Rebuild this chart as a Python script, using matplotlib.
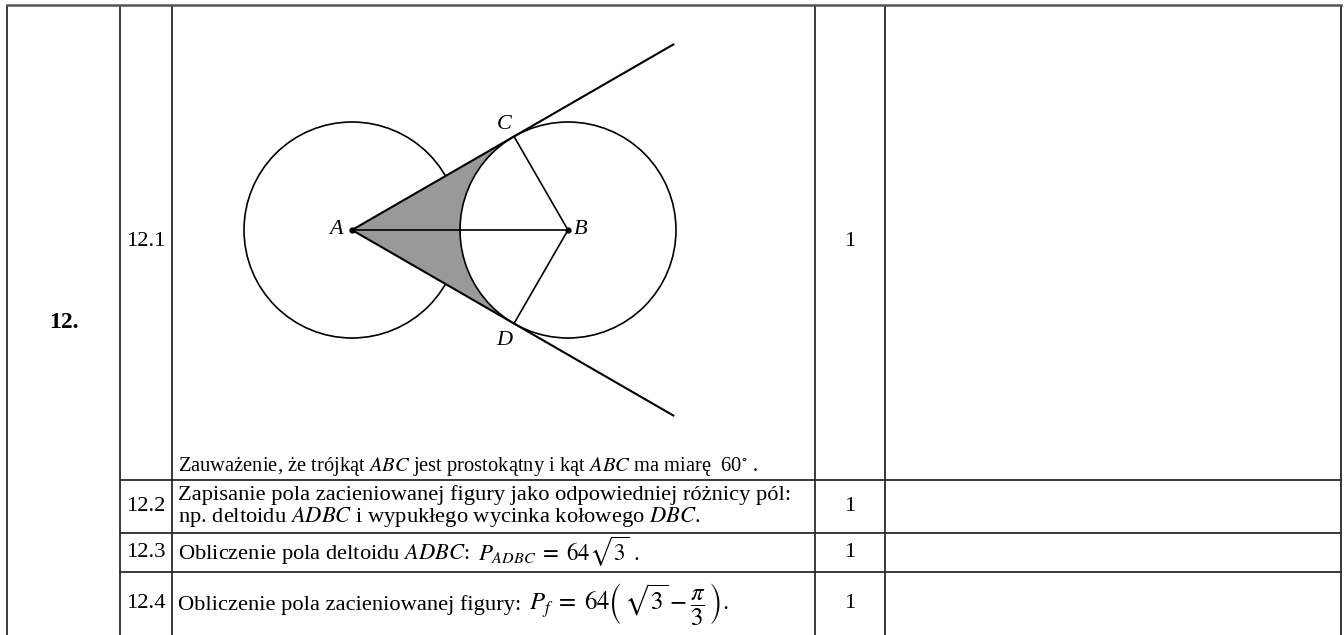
import numpy as np
import matplotlib
matplotlib.use("Agg")
import matplotlib.pyplot as plt
from matplotlib.patches import Circle, Polygon

plt.rcParams['font.family'] = ['Liberation Serif', 'DejaVu Serif']
plt.rcParams['mathtext.fontset'] = 'stix'

# ---- data ----
task_no = "12."
sub_ids = ["12.1", "12.2", "12.3", "12.4"]
points = [1, 1, 1, 1]
desc_text = [
    r"Zauważenie, że trójkąt $\mathit{ABC}$ jest prostokątny i kąt $\mathit{ABC}$ ma miarę  60$^{\circ}$ .",
    "Zapisanie pola zacieniowanej figury jako odpowiedniej różnicy pól:\n"
    r"np. deltoidu $\mathit{ADBC}$ i wypukłego wycinka kołowego $\mathit{DBC}$.",
    r"Obliczenie pola deltoidu $\mathit{ADBC}$:",
    r"Obliczenie pola zacieniowanej figury:",
]
desc_formula = [
    None,
    None,
    r"$P_{ADBC}\;=\;64\sqrt{3}\ .$",
    r"$P_f\;=\;64\left(\,\sqrt{3}-\dfrac{\pi}{3}\,\right).$",
]
point_labels = ["A", "B", "C", "D"]
AB_length = 216.0          # |AB|
angle_ABC_deg = 60.0       # angle ABC
tangent_length = 371.0     # length of tangent rays from A

# ---- layout ----
W, H = 1344, 635
fig = plt.figure(figsize=(W / 100, H / 100), dpi=100)
ax = fig.add_axes([0, 0, 1, 1])
ax.set_xlim(0, W)
ax.set_ylim(H, 0)
ax.axis('off')

col_x = [7, 120, 172, 815, 885, 1341]
row_y = [5, 480, 533, 572, H + 5]
lc = '#2a2a2a'
lw = 1.3
for x in col_x:
    ax.plot([x, x], [row_y[0], row_y[-1]], color=lc, lw=lw, solid_capstyle='butt')
ax.plot([col_x[0], col_x[-1]], [row_y[0], row_y[0]], color='#555555', lw=1.8)
for y in row_y[1:-1]:
    ax.plot([col_x[1], col_x[-1]], [y, y], color=lc, lw=lw)

fs = 16.2
ax.text((col_x[0] + col_x[1]) / 2, 322, task_no, fontsize=17, fontweight='bold',
        ha='center', va='center')

row_centers = [242, (row_y[1] + row_y[2]) / 2, (row_y[2] + row_y[3]) / 2, 604]
for i, (sid, pt) in enumerate(zip(sub_ids, points)):
    ax.text((col_x[1] + col_x[2]) / 2, row_centers[i], sid, fontsize=fs,
            ha='center', va='center')
    ax.text((col_x[3] + col_x[4]) / 2, row_centers[i], str(pt), fontsize=fs,
            ha='center', va='center')

tx = 178
ax.text(tx, 467, desc_text[0], fontsize=14.8, ha='left', va='center')
ax.text(tx, row_centers[1] + 1, desc_text[1], fontsize=fs, ha='left', va='center',
        linespacing=1.0)

fig.canvas.draw()
renderer = fig.canvas.get_renderer()
inv = ax.transData.inverted()
for i in (2, 3):
    base = row_centers[i] + 6
    t = ax.text(tx, base, desc_text[i], fontsize=fs, ha='left', va='baseline')
    bb = t.get_window_extent(renderer=renderer)
    x_end = inv.transform((bb.x1, bb.y0))[0]
    ax.text(x_end + 8, base + (3 if i == 2 else 0), desc_formula[i],
            fontsize=fs + (0.3 if i == 2 else 1.6), ha='left', va='baseline')

# ---- geometry ----
Ax, Ay = 352.0, 230.0
Bx, By = Ax + AB_length, Ay
ang = np.deg2rad(angle_ABC_deg)
r = AB_length * np.cos(ang)
Cx, Cy = Bx - r * np.cos(ang), By - r * np.sin(ang)
Dx, Dy = Bx - r * np.cos(ang), By + r * np.sin(ang)

ax.add_patch(Circle((Ax, Ay), r, fill=False, edgecolor='black', lw=1.2, zorder=1))
ax.add_patch(Circle((Bx, By), r, fill=False, edgecolor='black', lw=1.2, zorder=3))

th = np.linspace(np.pi - ang, np.pi + ang, 80)
arc = np.column_stack([Bx + r * np.cos(th), By - r * np.sin(th)])
poly = np.vstack([[Ax, Ay], arc, [Ax, Ay]])
ax.add_patch(Polygon(poly, closed=True, facecolor='#999999', edgecolor='none', zorder=2))

# tangent rays
phi = np.pi / 2 - ang  # angle of AC with AB
for s in (+1, -1):
    ex = Ax + tangent_length * np.cos(phi)
    ey = Ay - s * tangent_length * np.sin(phi)
    ax.plot([Ax, ex], [Ay, ey], color='black', lw=1.5, zorder=4)

ax.plot([Ax, Bx], [Ay, By], color='black', lw=1.2, zorder=4)
ax.plot([Cx, Bx, Dx], [Cy, By, Dy], color='black', lw=1.2, zorder=4)
ax.plot([Ax, Bx], [Ay, By], 'o', color='black', ms=3.5, zorder=5)

lab_fs = 16
ax.text(Ax - 9, Ay, point_labels[0], fontsize=lab_fs, style='italic', ha='right', va='center')
ax.text(Bx + 6, By, point_labels[1], fontsize=lab_fs, style='italic', ha='left', va='center')
ax.text(Cx - 10, Cy - 12, point_labels[2], fontsize=lab_fs, style='italic', ha='center', va='center')
ax.text(Dx - 10, Dy + 17, point_labels[3], fontsize=lab_fs, style='italic', ha='center', va='center')

fig.savefig("out.png", dpi=100, facecolor='white')
